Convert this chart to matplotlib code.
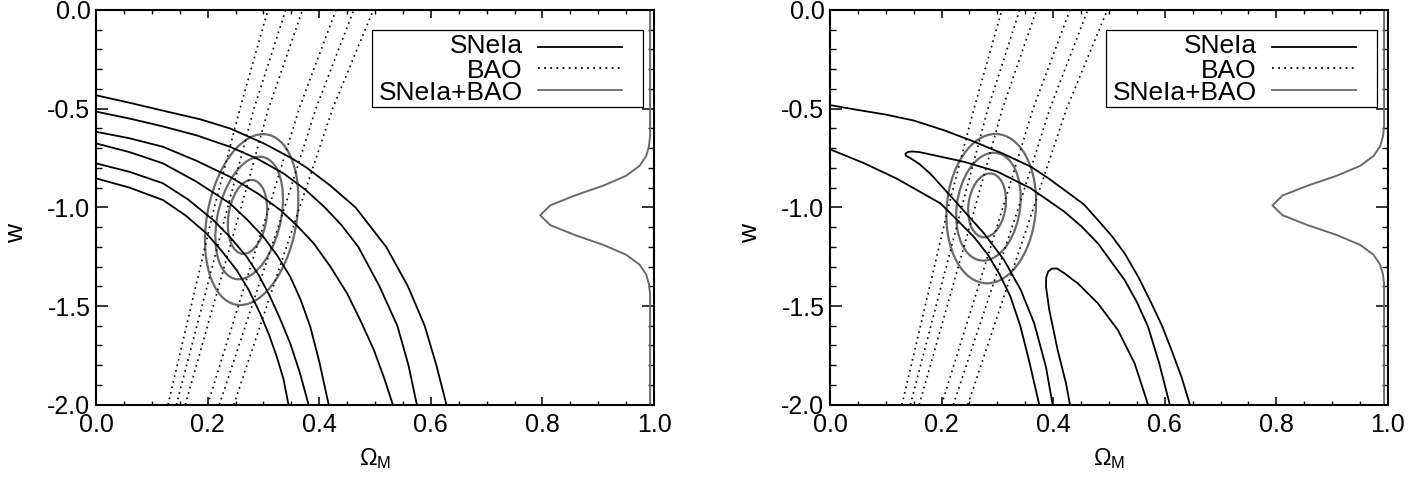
import matplotlib
matplotlib.use("Agg")
import matplotlib.pyplot as plt
from matplotlib.patches import Ellipse, Rectangle
from matplotlib.ticker import MultipleLocator, FormatStrFormatter

plt.rcParams['font.family'] = ['Liberation Sans', 'DejaVu Sans']
plt.rcParams['mathtext.fontset'] = 'custom'
plt.rcParams['mathtext.rm'] = 'Liberation Sans'
plt.rcParams['mathtext.it'] = 'Liberation Sans'
plt.rcParams['axes.unicode_minus'] = False

GRAY = '#6a6a6a'

# BAO bands (same in both panels): x at w = -2.0, -1.0, -0.5, 0.0
bao_w = [-2.0, -1.0, -0.5, 0.0]
bao_x = [
    [0.129, 0.212, 0.258, 0.308],
    [0.144, 0.236, 0.283, 0.340],
    [0.160, 0.260, 0.309, 0.370],
    [0.200, 0.310, 0.364, 0.430],
    [0.221, 0.338, 0.394, 0.462],
    [0.247, 0.365, 0.424, 0.497],
]

# SNe Ia contours, left panel
sn_left_x = [
    [0.0, 0.06, 0.12, 0.187, 0.24, 0.30, 0.35, 0.378, 0.42, 0.465, 0.52, 0.559, 0.589, 0.61, 0.628],
    [0.0, 0.06, 0.12, 0.18, 0.24, 0.29, 0.336, 0.375, 0.41, 0.44, 0.47, 0.508, 0.54, 0.56, 0.575],
    [0.0, 0.06, 0.12, 0.18, 0.24, 0.29, 0.33, 0.36, 0.39, 0.42, 0.45, 0.475, 0.498, 0.517, 0.532],
    [0.0, 0.06, 0.12, 0.18, 0.24, 0.27, 0.30, 0.325, 0.348, 0.367, 0.384, 0.40, 0.417],
    [0.0, 0.06, 0.12, 0.165, 0.21, 0.24, 0.27, 0.292, 0.312, 0.33, 0.348, 0.365, 0.381],
    [0.0, 0.06, 0.12, 0.16, 0.198, 0.225, 0.252, 0.274, 0.294, 0.31, 0.324, 0.336, 0.345],
]
sn_left_w = [
    [-0.432, -0.47, -0.51, -0.554, -0.60, -0.675, -0.75, -0.80, -0.89, -1.0, -1.2, -1.4, -1.6, -1.8, -2.0],
    [-0.515, -0.55, -0.59, -0.635, -0.693, -0.755, -0.828, -0.91, -1.0, -1.09, -1.2, -1.4, -1.6, -1.8, -2.0],
    [-0.617, -0.65, -0.693, -0.764, -0.845, -0.93, -1.013, -1.092, -1.182, -1.30, -1.436, -1.58, -1.723, -1.87, -2.0],
    [-0.676, -0.72, -0.777, -0.87, -0.98, -1.06, -1.149, -1.245, -1.351, -1.47, -1.605, -1.78, -2.0],
    [-0.777, -0.82, -0.878, -0.96, -1.064, -1.15, -1.25, -1.345, -1.453, -1.565, -1.689, -1.835, -2.0],
    [-0.853, -0.90, -0.963, -1.04, -1.132, -1.22, -1.318, -1.42, -1.537, -1.645, -1.757, -1.87, -2.0],
]

# SNe Ia contours, right panel
sn_right_x = [
    [0.0, 0.051, 0.10, 0.15, 0.205, 0.258, 0.31, 0.36, 0.39, 0.42, 0.455, 0.48,
     0.505, 0.528, 0.553, 0.576, 0.595, 0.612, 0.63, 0.645],
    [0.0, 0.06, 0.12, 0.198, 0.23, 0.258, 0.283, 0.304, 0.323, 0.341, 0.357, 0.375],
    [0.609, 0.59, 0.57, 0.55, 0.528, 0.48, 0.45, 0.42, 0.36, 0.30, 0.24, 0.18, 0.16,
     0.148, 0.14, 0.135, 0.136, 0.145, 0.16, 0.18, 0.228, 0.276, 0.312, 0.342, 0.366,
     0.387, 0.399],
    [0.430, 0.423, 0.408, 0.393, 0.387, 0.3875, 0.391, 0.398, 0.407, 0.42, 0.444,
     0.48, 0.516, 0.546, 0.570],
]
sn_right_w = [
    [-0.482, -0.507, -0.53, -0.56, -0.61, -0.667, -0.728, -0.794, -0.85, -0.912, -0.985,
     -1.064, -1.145, -1.233, -1.355, -1.486, -1.6, -1.723, -1.86, -2.0],
    [-0.706, -0.775, -0.855, -0.98, -1.07, -1.15, -1.24, -1.34, -1.45, -1.6, -1.78, -2.0],
    [-2.0, -1.79, -1.605, -1.48, -1.368, -1.182, -1.095, -1.022, -0.904, -0.819, -0.769,
     -0.732, -0.72, -0.717, -0.719, -0.728, -0.738, -0.752, -0.78, -0.83, -0.98, -1.132,
     -1.267, -1.419, -1.588, -1.808, -2.0],
    [-2.0, -1.892, -1.723, -1.52, -1.40, -1.355, -1.325, -1.31, -1.31, -1.334, -1.385,
     -1.486, -1.622, -1.791, -2.0],
]

# combined SNe+BAO contours: centre, full width/height, tilt
comb_left_x = [0.279, 0.2745, 0.2715]
comb_left_w = [-1.062, -1.054, -1.0485]
comb_left_dx = [0.162, 0.115, 0.069]
comb_left_dw = [0.867, 0.622, 0.375]
comb_left_ang = [-2.8, -3.6, -2.3]

comb_right_x = [0.289, 0.284, 0.2815]
comb_right_w = [-1.0065, -0.9965, -0.990]
comb_right_dx = [0.160, 0.114, 0.067]
comb_right_dw = [0.757, 0.547, 0.324]
comb_right_ang = [-1.2, -2.1, -1.9]

# marginal distribution of w (drawn at right edge)
marg_left_w = [0.0, -0.64, -0.69, -0.74, -0.79, -0.84, -0.89, -0.94, -0.99, -1.04,
               -1.09, -1.14, -1.19, -1.24, -1.29, -1.34, -1.39, -1.44, -2.0]
marg_left_x = [0.993, 0.993, 0.991, 0.986, 0.974, 0.950, 0.909, 0.858, 0.814, 0.796,
               0.814, 0.858, 0.909, 0.950, 0.974, 0.986, 0.991, 0.993, 0.993]
marg_right_w = [0.0, -0.59, -0.64, -0.69, -0.74, -0.79, -0.84, -0.89, -0.94, -0.99,
                -1.04, -1.09, -1.14, -1.19, -1.24, -1.29, -1.34, -1.39, -2.0]
marg_right_x = [0.993, 0.993, 0.991, 0.986, 0.974, 0.950, 0.908, 0.856, 0.811, 0.793,
                0.811, 0.856, 0.908, 0.950, 0.974, 0.986, 0.991, 0.993, 0.993]

legend_labels = ['SNeIa', 'BAO', 'SNeIa+BAO']


def draw_key(ax):
    ax.add_patch(Rectangle((0.4955, 0.7535), 0.4842, 0.1948, transform=ax.transAxes,
                           facecolor='white', edgecolor='black', lw=0.9, zorder=5))
    base_y = [0.890, 0.827, 0.772]
    line_y = [0.907, 0.854, 0.797]
    styles = [dict(color='black', ls='-'),
              dict(color='black', ls=(0, (1, 2.4))),
              dict(color=GRAY, ls='-')]
    for lab, by, ly, st in zip(legend_labels, base_y, line_y, styles):
        ax.text(0.7643, by, lab, transform=ax.transAxes, ha='right', va='baseline',
                fontsize=19, zorder=6)
        ax.plot([0.793, 0.9425], [ly, ly], transform=ax.transAxes, lw=1.3,
                zorder=6, **st)


def draw_panel(ax, sn_x, sn_w, cx, cw, dx, dw, ang, mx, mw):
    for xs in bao_x:
        ax.plot(xs, bao_w, color='black', lw=1.2, ls=(0, (1, 2.4)))
    for xs, ws in zip(sn_x, sn_w):
        ax.plot(xs, ws, color='black', lw=1.3, solid_joinstyle='round')
    for x0, w0, a, b, t in zip(cx, cw, dx, dw, ang):
        ax.add_patch(Ellipse((x0, w0), a, b, angle=t, fill=False,
                             edgecolor=GRAY, lw=1.6))
    ax.plot(mx, mw, color=GRAY, lw=1.4, solid_joinstyle='round')
    draw_key(ax)

    ax.set_xlim(0, 1)
    ax.set_ylim(-2, 0)
    ax.xaxis.set_major_locator(MultipleLocator(0.2))
    ax.xaxis.set_minor_locator(MultipleLocator(0.05))
    ax.yaxis.set_major_locator(MultipleLocator(0.5))
    ax.yaxis.set_minor_locator(MultipleLocator(0.1))
    ax.xaxis.set_major_formatter(FormatStrFormatter('%.1f'))
    ax.yaxis.set_major_formatter(FormatStrFormatter('%.1f'))
    ax.tick_params(which='both', direction='in', top=True, right=True, labelsize=18)
    ax.tick_params(axis='x', which='major', length=5.8, width=1.1, pad=6)
    ax.tick_params(axis='x', which='minor', length=2.9, width=1.0)
    ax.tick_params(axis='y', which='major', length=8.8, width=1.1, pad=4)
    ax.tick_params(axis='y', which='minor', length=4.3, width=1.0)
    for sp in ax.spines.values():
        sp.set_linewidth(1.5)

    ax.set_xlabel(r'$\Omega_{\rm M}$', fontsize=17, va='baseline')
    ax.xaxis.set_label_coords(0.5, -0.153)
    ax.set_ylabel('w', fontsize=19, va='center')
    ax.yaxis.set_label_coords(-0.143, 0.435)


fig = plt.figure(figsize=(14.21, 4.78), dpi=100)
ax1 = fig.add_axes([0.06756, 0.15335, 0.39268, 0.82573])
ax2 = fig.add_axes([0.58409, 0.15335, 0.39268, 0.82573])

draw_panel(ax1, sn_left_x, sn_left_w, comb_left_x, comb_left_w, comb_left_dx,
           comb_left_dw, comb_left_ang, marg_left_x, marg_left_w)
draw_panel(ax2, sn_right_x, sn_right_w, comb_right_x, comb_right_w, comb_right_dx,
           comb_right_dw, comb_right_ang, marg_right_x, marg_right_w)

fig.savefig('out.png', dpi=100)
